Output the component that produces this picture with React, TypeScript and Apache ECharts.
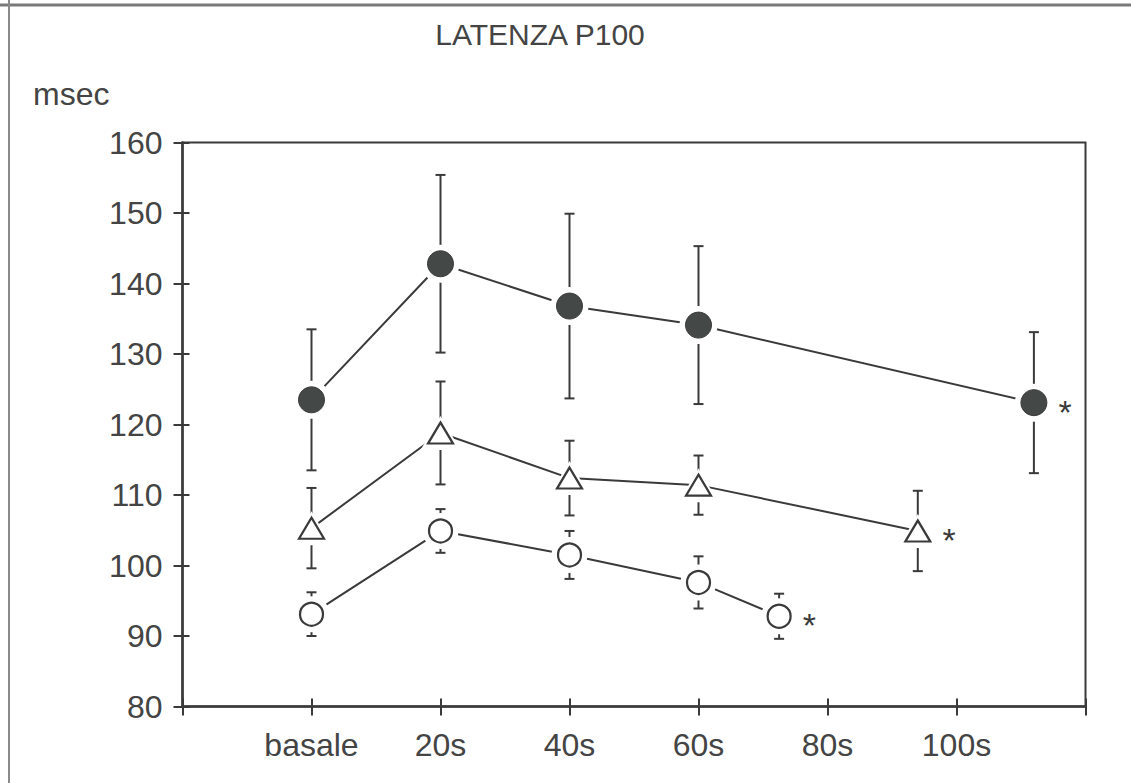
import React, { useEffect, useRef } from "react";
import * as echarts from "echarts";

// x positions (seconds; basale = 0)
const filledX = [0, 20, 40, 60, 112];
const filledY = [123.5, 142.8, 136.8, 134.1, 123.1];
const filledErr = [10, 12.6, 13.1, 11.2, 10];

const triX = [0, 20, 40, 60, 94];
const triY = [105.3, 118.8, 112.4, 111.4, 104.9];
const triErr = [5.7, 7.3, 5.3, 4.2, 5.7];

const openX = [0, 20, 40, 60, 72.5];
const openY = [93.1, 104.9, 101.5, 97.6, 92.8];
const openErr = [3.1, 3.1, 3.4, 3.7, 3.2];

const xTickLabels = ["", "basale", "20s", "40s", "60s", "80s", "100s", ""];
const yTicks = [80, 90, 100, 110, 120, 130, 140, 150, 160];

const INK = "#3a3a3a";
const FONT = "'Liberation Sans', Arial, sans-serif";

function pts(xs: number[], ys: number[]) {
  return xs.map((x, i) => [x, ys[i]]);
}
function errPts(xs: number[], ys: number[], es: number[]) {
  return xs.map((x, i) => [x, ys[i], es[i]]);
}

const errorSeries = (data: number[][]) => ({
  type: "custom",
  z: 1,
  data,
  encode: { x: 0, y: 1 },
  renderItem: (params: any, api: any) => {
    const x = api.value(0);
    const y = api.value(1);
    const e = api.value(2);
    const top = api.coord([x, y + e]);
    const bot = api.coord([x, y - e]);
    const w = 5;
    const st = { stroke: INK, lineWidth: 2 };
    return {
      type: "group",
      children: [
        { type: "line", shape: { x1: top[0], y1: top[1], x2: bot[0], y2: bot[1] }, style: st },
        { type: "line", shape: { x1: top[0] - w, y1: top[1], x2: top[0] + w, y2: top[1] }, style: st },
        { type: "line", shape: { x1: bot[0] - w, y1: bot[1], x2: bot[0] + w, y2: bot[1] }, style: st },
      ],
    };
  },
});

const lineSeries = (data: number[][]) => ({
  type: "line",
  z: 2,
  data,
  symbol: "none",
  lineStyle: { color: INK, width: 2 },
});

const haloSeries = (data: number[][], symbol: string, size: any) => ({
  type: "scatter",
  z: 3,
  data,
  symbol,
  symbolSize: size,
  itemStyle: { color: "#ffffff", opacity: 1 },
  silent: true,
});

const star = {
  show: true,
  formatter: "*",
  position: "right",
  distance: 11,
  offset: [0, 9],
  fontSize: 34,
  color: INK,
  fontFamily: FONT,
};

function withStar(data: number[][]) {
  return data.map((d, i) =>
    i === data.length - 1 ? { value: d, label: star } : { value: d }
  );
}

export default function App() {
  const ref = useRef<HTMLDivElement>(null);
  useEffect(() => {
    document.body.style.margin = "0";
    const chart = echarts.init(ref.current!, null, { renderer: "svg" });
    const filled = pts(filledX, filledY);
    const tri = pts(triX, triY);
    const open = pts(openX, openY);
    const xAxisBase = {
      type: "value",
      min: -20,
      max: 120,
      interval: 20,
      splitLine: { show: false },
    };
    const yAxisBase = {
      type: "value",
      min: 80,
      max: 160,
      interval: 10,
      splitLine: { show: false },
    };
    chart.setOption({
      animation: false,
      backgroundColor: "#ffffff",
      title: {
        text: "LATENZA P100",
        left: 535,
        top: 14,
        textAlign: "center",
        textStyle: { fontFamily: FONT, fontSize: 30, fontWeight: "normal", color: "#444" },
      },
      grid: {
        left: 182.5,
        right: 45.5,
        top: 142.5,
        bottom: 76.5,
        show: true,
        borderColor: INK,
        borderWidth: 2,
        backgroundColor: "transparent",
      },
      xAxis: [
        {
          ...xAxisBase,
          position: "bottom",
          axisLine: { show: true, onZero: false, lineStyle: { color: INK, width: 2.5 } },
          axisTick: { show: true, inside: false, length: 9, lineStyle: { color: INK, width: 2 } },
          axisLabel: {
            margin: 22,
            fontFamily: FONT,
            fontSize: 32,
            color: "#444",
            formatter: (v: number) => xTickLabels[Math.round((v + 20) / 20)] ?? "",
          },
        },
        {
          ...xAxisBase,
          position: "bottom",
          axisLine: { show: false, onZero: false },
          axisTick: { show: true, inside: true, length: 8, lineStyle: { color: INK, width: 2 } },
          axisLabel: { show: false },
        },
      ],
      yAxis: [
        {
          ...yAxisBase,
          position: "left",
          axisLine: { show: true, onZero: false, lineStyle: { color: INK, width: 2.5 } },
          axisTick: { show: true, inside: false, length: 9, lineStyle: { color: INK, width: 2 } },
          axisLabel: {
            margin: 20,
            fontFamily: FONT,
            fontSize: 32,
            color: "#444",
            formatter: (v: number) => (yTicks.includes(v) ? String(v) : ""),
          },
        },
        {
          ...yAxisBase,
          position: "left",
          axisLine: { show: false, onZero: false },
          axisTick: { show: true, inside: true, length: 7, lineStyle: { color: INK, width: 2 } },
          axisLabel: { show: false },
        },
      ],
      graphic: [
        { type: "line", shape: { x1: 0, y1: 5, x2: 1131, y2: 5 }, style: { stroke: "#7a7a7a", lineWidth: 3 } },
        { type: "line", shape: { x1: 9, y1: 0, x2: 9, y2: 783 }, style: { stroke: "#8a8a8a", lineWidth: 2 } },
        {
          type: "text",
          left: 33,
          top: 78,
          style: { text: "msec", fontFamily: FONT, fontSize: 32, fill: "#444" },
        },
      ],
      series: [
        errorSeries(errPts(filledX, filledY, filledErr)),
        errorSeries(errPts(triX, triY, triErr)),
        errorSeries(errPts(openX, openY, openErr)),
        lineSeries(filled),
        lineSeries(tri),
        lineSeries(open),
        haloSeries(filled, "circle", 38),
        haloSeries(tri, "triangle", [40, 34]),
        haloSeries(open, "circle", 36),
        {
          type: "scatter",
          z: 4,
          data: withStar(filled),
          symbol: "circle",
          symbolSize: 26,
          itemStyle: { color: "#444846", borderColor: "#3a3a3a", borderWidth: 1, opacity: 1 },
        },
        {
          type: "scatter",
          z: 4,
          data: withStar(tri),
          symbol: "triangle",
          symbolSize: [25, 21],
          itemStyle: { color: "#ffffff", borderColor: INK, borderWidth: 2.2, opacity: 1 },
        },
        {
          type: "scatter",
          z: 4,
          data: withStar(open),
          symbol: "circle",
          symbolSize: 23,
          itemStyle: { color: "#ffffff", borderColor: INK, borderWidth: 2.2, opacity: 1 },
        },
      ],
    });
    return () => chart.dispose();
  }, []);
  return <div ref={ref} style={{ width: 1131, height: 783 }} />;
}
